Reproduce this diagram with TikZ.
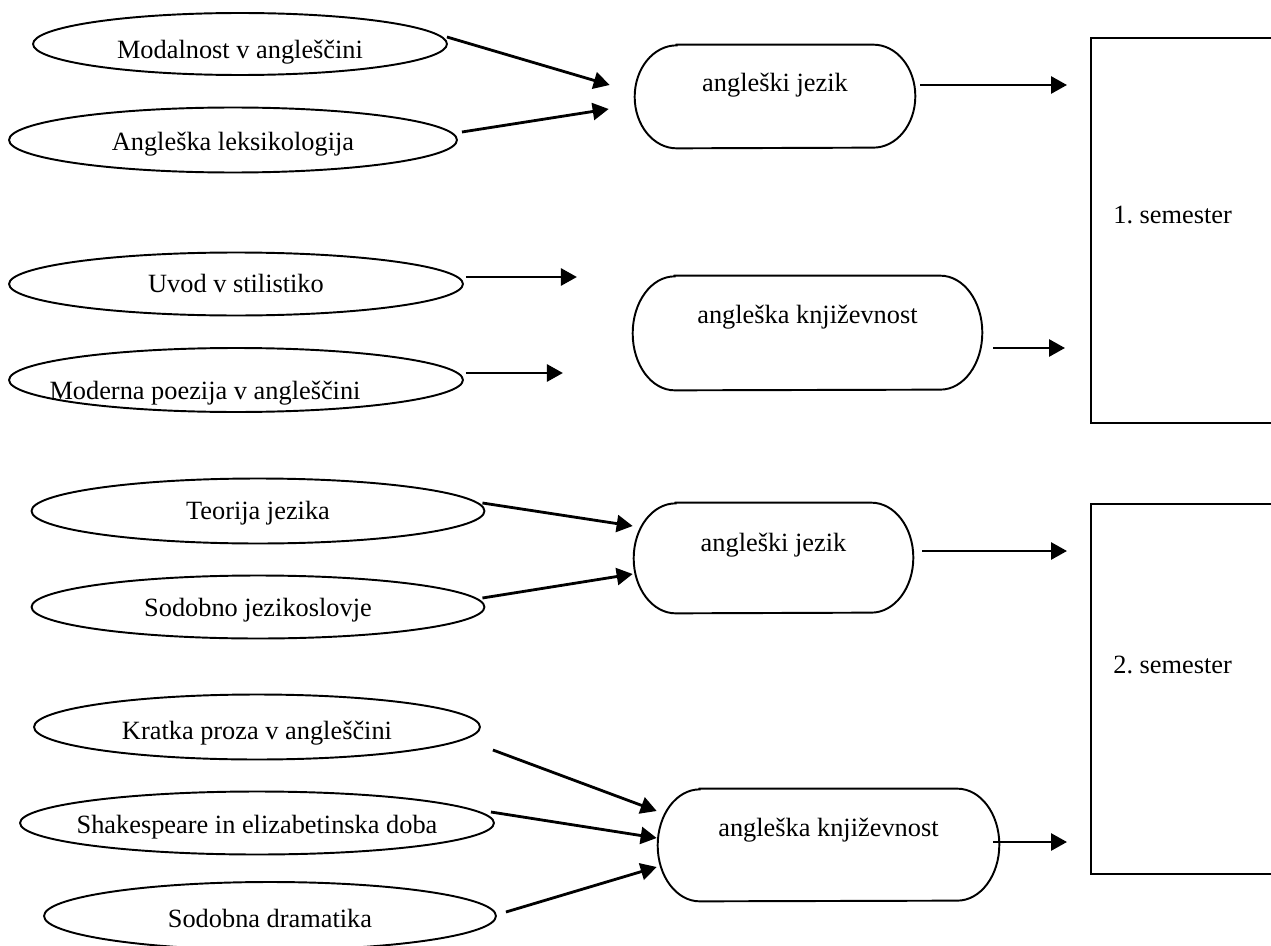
\documentclass[tikz,border=0pt]{standalone}
\usepackage{fontspec}
\setmainfont{Liberation Serif}
\usetikzlibrary{arrows.meta,shapes.geometric,calc}

\newcommand{\lowtext}[2]{\makebox[0pt]{\raisebox{#1}[0pt][0pt]{#2}}}
% outline of a pill node: straight top and bottom, half ellipses at the ends
\newcommand{\pillline}[2]{%
  \draw[line width=1.1pt] ($(#1.north west)+(0.84cm,0)$) -- ($(#1.north east)+(-0.84cm,0)$)
    arc[start angle=90, end angle=-90, x radius=0.84cm, y radius=#2]
    -- ($(#1.south west)+(0.84cm,0)$)
    arc[start angle=270, end angle=90, x radius=0.84cm, y radius=#2] -- cycle;}

\tikzset{
  course/.style={draw, ellipse, line width=1.1pt, inner sep=0pt},
  area/.style={rectangle, inner sep=0pt},
  sembox/.style={draw, rectangle, line width=1.3pt, inner sep=0pt, anchor=north west},
  arr/.style={-{Triangle[length=0.32cm,width=0.34cm]}, line width=1.6pt},
}

\begin{document}
\begin{tikzpicture}[x=0.02cm, y=-0.02cm, font=\fontsize{15}{18}\selectfont]
\useasboundingbox (0,0) rectangle (1271,946);

% 1. semester
\node[course, minimum width=8.28cm, minimum height=1.24cm] (mod) at (240,44) {\lowtext{-0.30cm}{Modalnost v angleščini}};
\node[course, minimum width=8.96cm, minimum height=1.30cm] (leks) at (233,140) {\lowtext{-0.22cm}{Angleška leksikologija}};
\node[course, minimum width=9.08cm, minimum height=1.26cm] (stil) at (236,284) {\lowtext{-0.16cm}{Uvod v stilistiko}};
\node[course, minimum width=9.08cm, minimum height=1.28cm] (poez) at (236,380) {\lowtext{-0.38cm}{\hspace*{-1.24cm}Moderna poezija v angleščini}};

\node[area, minimum width=5.6cm, minimum height=2.06cm] (jez1) at (775,96.5) {\lowtext{0.11cm}{angleški jezik}};
\pillline{jez1}{1.03cm}
\node[area, minimum width=6.98cm, minimum height=2.28cm] (knj1) at (807.5,333) {\lowtext{0.2cm}{angleška književnost}};
\pillline{knj1}{1.14cm}

\node[sembox, minimum width=4.2cm, minimum height=7.7cm] (sem1) at (1090,37) {};
\node[anchor=west, inner sep=0pt] (sem1t) at (1113,215) {1.\ semester};

\draw[arr] ($(mod.east)+(-1,-7)$) -- ($(jez1.west)+(-25,-11.5)$);
\draw[arr] ($(leks.east)+(4,-8)$) -- ($(jez1.west)+(-26,12.5)$);
\draw[arr] ($(stil.east)+(2,-7)$) -- +(111,0);
\draw[arr] ($(poez.east)+(2,-7)$) -- +(97,0);
\draw[arr, shorten >=0.46cm] ($(jez1.east)+(5,-11.5)$) coordinate (j1o) -- (j1o -| sem1.west);
\draw[arr, shorten >=0.5cm] ($(knj1.east)+(11,15)$) coordinate (k1o) -- (k1o -| sem1.west);

% 2. semester
\node[course, minimum width=9.06cm, minimum height=1.30cm] (teo) at (258,511) {\lowtext{-0.16cm}{Teorija jezika}};
\node[course, minimum width=9.06cm, minimum height=1.26cm] (jezsl) at (258,607) {\lowtext{-0.18cm}{Sodobno jezikoslovje}};
\node[course, minimum width=8.92cm, minimum height=1.30cm] (proz) at (257,727) {\lowtext{-0.24cm}{Kratka proza v angleščini}};
\node[course, minimum width=9.48cm, minimum height=1.26cm] (shak) at (257,823) {\lowtext{-0.20cm}{Shakespeare in elizabetinska doba}};
\node[course, minimum width=9.04cm, minimum height=1.36cm] (dram) at (270,916) {\lowtext{-0.22cm}{Sodobna dramatika}};

\node[area, minimum width=5.58cm, minimum height=2.2cm] (jez2) at (773.5,558) {\lowtext{0.14cm}{angleški jezik}};
\pillline{jez2}{1.1cm}
\node[area, minimum width=6.82cm, minimum height=2.24cm] (knj2) at (828.5,845) {\lowtext{0.18cm}{angleška književnost}};
\pillline{knj2}{1.12cm}

\node[sembox, minimum width=4.2cm, minimum height=7.4cm] (sem2) at (1090,503) {};
\node[anchor=west, inner sep=0pt] (sem2t) at (1113,665) {2.\ semester};

\draw[arr] ($(teo.east)+(-3,-8)$) -- ($(jez2.west)+(-1,-32)$);
\draw[arr] ($(jezsl.east)+(-3,-9)$) -- ($(jez2.west)+(-1,16)$);
\draw[arr] ($(proz.east)+(12,23)$) -- ($(knj2.west)+(-1,-34)$);
\draw[arr] ($(shak.east)+(-4,-11)$) -- ($(knj2.west)+(-1,-7)$);
\draw[arr] ($(dram.east)+(9,-4)$) -- ($(knj2.west)+(-1,22)$);
\draw[arr, shorten >=0.46cm] ($(jez2.east)+(9,-7)$) coordinate (j2o) -- (j2o -| sem2.west);
\draw[arr, shorten >=0.46cm] ($(knj2.east)+(-6,-3)$) coordinate (k2o) -- (k2o -| sem2.west);
\end{tikzpicture}
\end{document}
